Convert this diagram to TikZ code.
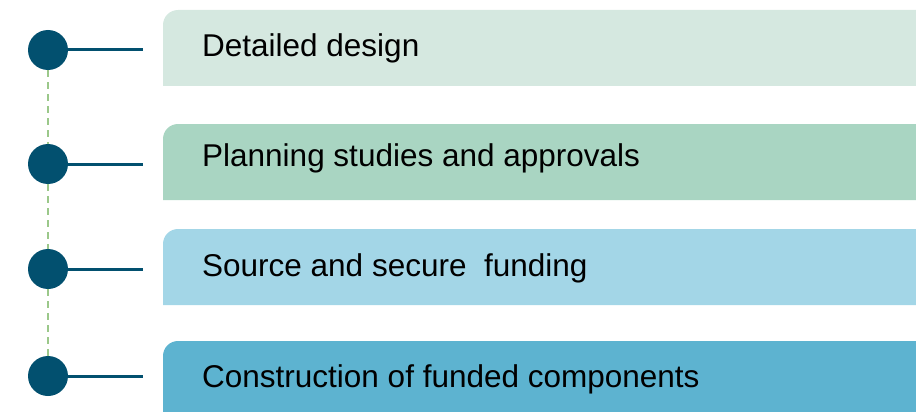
\documentclass[tikz,border=0pt]{standalone}
\usepackage{fontspec}
\setmainfont{Liberation Sans}
\definecolor{boxA}{HTML}{D5E8E0}
\definecolor{boxB}{HTML}{A9D5C2}
\definecolor{boxC}{HTML}{A3D6E7}
\definecolor{boxD}{HTML}{5DB3D0}
\definecolor{dotc}{HTML}{02506F}
\definecolor{dashc}{HTML}{9BC88A}
\begin{document}
\begin{tikzpicture}[x=1pt,y=-1pt,
  dotnode/.style={circle,fill=dotc,minimum size=40pt,inner sep=0pt},
  stub/.style={dotc,line width=3pt},
  spine/.style={dashc,line width=2pt,dash pattern=on 7pt off 5pt},
  label/.style={anchor=base west,inner sep=0pt,font=\fontsize{31.5}{37}\selectfont,text=black}]
\useasboundingbox (0,0) rectangle (916,412);
% boxes
\fill[boxA] (163,86) [rounded corners=15pt] -- (163,10) [sharp corners] -- (916,10) -- (916,86) -- cycle;
\fill[boxB] (163,200) [rounded corners=15pt] -- (163,124) [sharp corners] -- (916,124) -- (916,200) -- cycle;
\fill[boxC] (163,305) [rounded corners=15pt] -- (163,229) [sharp corners] -- (916,229) -- (916,305) -- cycle;
\fill[boxD] (163,412) [rounded corners=15pt] -- (163,341) [sharp corners] -- (916,341) -- (916,412) -- cycle;
% labels
\node[label] (t1) at (202,57) {Detailed design};
\node[label] (t2) at (202,166) {Planning studies and approvals};
\node[label] (t3) at (202,276) {Source and secure~ funding};
\node[label] (t4) at (202,387) {Construction of funded components};
% dots
\node[dotnode] (c1) at (48,50) {};
\node[dotnode] (c2) at (48,164) {};
\node[dotnode] (c3) at (48,269) {};
\node[dotnode] (c4) at (48,376) {};
\coordinate (e1) at (143,50);
\coordinate (e2) at (143,164);
\coordinate (e3) at (143,269);
\coordinate (e4) at (143,376);
\draw[spine] (c1.south) -- (c2.north);
\draw[spine] (c2.south) -- (c3.north);
\draw[spine] (c3.south) -- (c4.north);
\draw[stub] (c1.east) -- (e1);
\draw[stub] (c2.east) -- (e2);
\draw[stub] (c3.east) -- (e3);
\draw[stub] (c4.east) -- (e4);
\end{tikzpicture}
\end{document}
